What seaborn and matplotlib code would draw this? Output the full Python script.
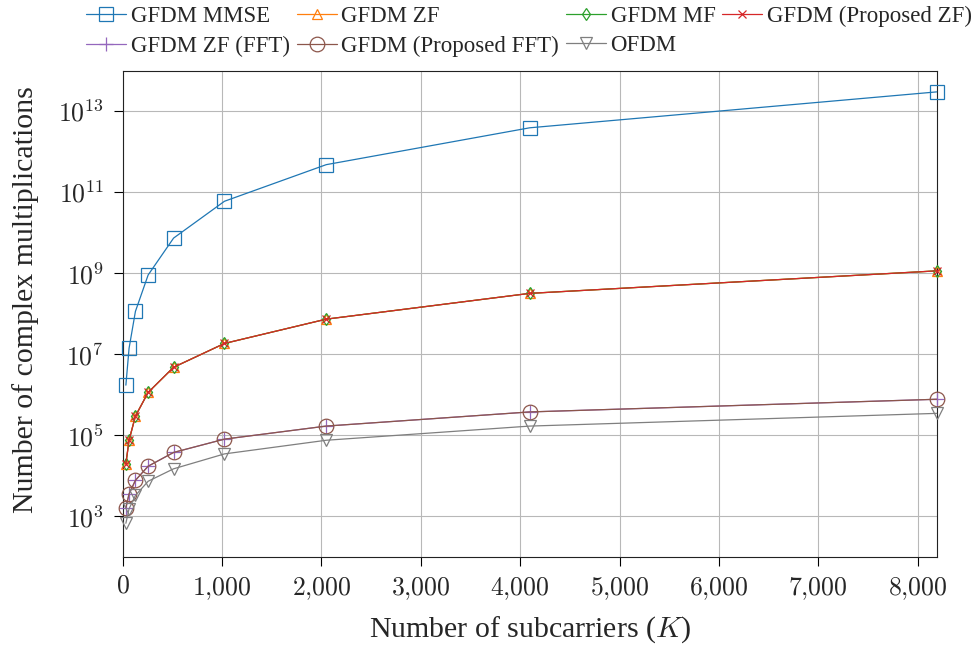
import matplotlib
matplotlib.use("Agg")
import matplotlib.pyplot as plt
import seaborn as sns
import numpy as np
import pandas as pd
from matplotlib.ticker import NullLocator, FixedLocator

# ---------------- data ----------------
K = [32, 64, 128, 256, 512, 1024, 2048, 4096, 8192]

gfdm_mmse = [1.74e6, 1.41e7, 1.15e8, 9.1e8, 7.4e9, 6.0e10, 4.8e11, 3.9e12, 3.0e13]
gfdm_zf = [2.0e4, 7.6e4, 3.0e5, 1.15e6, 4.8e6, 1.86e7, 7.4e7, 3.2e8, 1.15e9]
gfdm_mf = [2.0e4, 7.6e4, 3.0e5, 1.15e6, 4.8e6, 1.86e7, 7.4e7, 3.2e8, 1.15e9]
gfdm_prop_zf = [2.0e4, 7.6e4, 3.0e5, 1.15e6, 4.8e6, 1.86e7, 7.4e7, 3.2e8, 1.15e9]
gfdm_zf_fft = [1.64e3, 3.6e3, 7.8e3, 1.74e4, 3.8e4, 8.1e4, 1.7e5, 3.8e5, 7.8e5]
gfdm_prop_fft = [1.64e3, 3.6e3, 7.8e3, 1.74e4, 3.8e4, 8.1e4, 1.7e5, 3.8e5, 7.8e5]
ofdm = [680, 1.55e3, 3.3e3, 7.4e3, 1.5e4, 3.5e4, 7.6e4, 1.7e5, 3.5e5]

series_names = ["GFDM MMSE", "GFDM ZF", "GFDM MF", "GFDM (Proposed ZF)",
                "GFDM ZF (FFT)", "GFDM (Proposed FFT)", "OFDM"]
series_values = [gfdm_mmse, gfdm_zf, gfdm_mf, gfdm_prop_zf,
                 gfdm_zf_fft, gfdm_prop_fft, ofdm]

xticks = [0, 1000, 2000, 3000, 4000, 5000, 6000, 7000, 8000]
yticks = [1e3, 1e5, 1e7, 1e9, 1e11, 1e13]
xtick_labels = ["$" + f"{v:,}".replace(",", "{,}") + "$" for v in xticks]
ytick_labels = [r"$10^{%d}$" % int(round(np.log10(v))) for v in yticks]

# ---------------- style ----------------
sns.set_style("white")
plt.rcParams["font.family"] = ["Liberation Serif", "DejaVu Serif"]
plt.rcParams["mathtext.fontset"] = "cm"

palette = sns.color_palette("tab10")
styles = {
    "GFDM MMSE": dict(color=palette[0], marker="s", ms=10.6, mfc="none"),
    "GFDM ZF": dict(color=palette[1], marker="^", ms=7.0, mfc="none"),
    "GFDM MF": dict(color=palette[2], marker="d", ms=6.2, mfc="none"),
    "GFDM (Proposed ZF)": dict(color=palette[3], marker="x", ms=6.0),
    "GFDM ZF (FFT)": dict(color=palette[4], marker="+", ms=9.5),
    "GFDM (Proposed FFT)": dict(color=palette[5], marker="o", ms=10.5, mfc="none"),
    "OFDM": dict(color=palette[7], marker="v", ms=8.5, mfc="none"),
}

fig = plt.figure(figsize=(9.74, 6.46), dpi=100)
W, H = 974, 646
ax_left, ax_right, ax_top, ax_bottom = 122.7, 936.7, 70.7, 557.0
ax = fig.add_axes([ax_left / W, 1 - ax_bottom / H,
                   (ax_right - ax_left) / W, (ax_bottom - ax_top) / H])

df = pd.DataFrame({"K": np.tile(K, len(series_names)),
                   "value": np.concatenate(series_values),
                   "series": np.repeat(series_names, len(K))})

for name in series_names:
    st = styles[name]
    sub = df[df["series"] == name]
    sns.lineplot(data=sub, x="K", y="value", ax=ax, color=st["color"],
                 marker=st["marker"], markersize=st["ms"],
                 markerfacecolor=st.get("mfc", st["color"]),
                 markeredgecolor=st["color"], markeredgewidth=0.9,
                 linewidth=0.9, label=name, clip_on=False, zorder=3)

ax.set_yscale("log")
ax.set_xlim(0, 8192)
ax.set_ylim(1e2, 1e14)
ax.xaxis.set_major_locator(FixedLocator(xticks))
ax.yaxis.set_major_locator(FixedLocator(yticks))
ax.yaxis.set_minor_locator(NullLocator())
ax.xaxis.set_minor_locator(NullLocator())
ax.set_xticklabels(xtick_labels)
ax.set_yticklabels(ytick_labels)
ax.tick_params(axis="both", which="major", direction="out", length=6.5,
               width=0.8, color="black", labelsize=18.5,
               bottom=True, left=True, top=False, right=False)
ax.tick_params(axis="x", pad=7)
ax.tick_params(axis="y", pad=7)
ax.grid(True, which="major", color="#b8b8b8", linewidth=0.8)
ax.set_axisbelow(True)
for sp in ax.spines.values():
    sp.set_color("#222222")
    sp.set_linewidth(0.8)

ax.set_xlabel(r"Number of subcarriers ($K$)", fontsize=21.5, labelpad=8.5)
ax.set_ylabel("Number of complex multiplications", fontsize=21.5)
ax.yaxis.set_label_coords((39 - ax_left) / (ax_right - ax_left),
                          (ax_bottom - 300) / (ax_bottom - ax_top))

# legend, filled row-wise (4 columns)
handles, labels = ax.get_legend_handles_labels()
ax.get_legend().remove()
hmap = dict(zip(labels, handles))
order = ["GFDM MMSE", "GFDM ZF (FFT)", "GFDM ZF", "GFDM (Proposed FFT)",
         "GFDM MF", "OFDM", "GFDM (Proposed ZF)"]
fig.legend([hmap[o] for o in order], order, ncol=4, loc="upper left",
           bbox_to_anchor=(86 / W, 1 - 5.5 / H), frameon=False,
           handlelength=1.75, handletextpad=0.2, columnspacing=0.3,
           labelspacing=0.38, fontsize=16.5, borderpad=0, borderaxespad=0)

fig.savefig("out.png", dpi=100)
